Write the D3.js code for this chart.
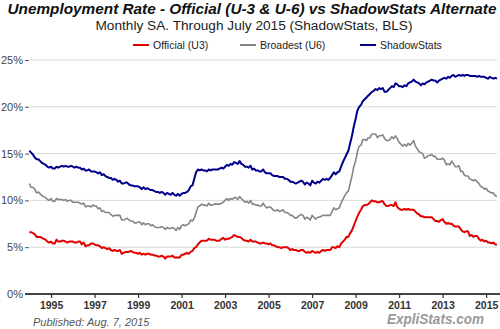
<!DOCTYPE html>
<html><head><meta charset="utf-8">
<script src="https://cdn.jsdelivr.net/npm/d3@7"></script>
<style>body{margin:0;background:#fff}svg{display:block}</style>
</head><body>
<script>
const startYear = 1994;
const u3 = [
6.6,6.6,6.5,6.4,6.1,6.1,6.1,6.0,5.9,5.8,5.6,5.5,
5.6,5.4,5.4,5.8,5.6,5.6,5.7,5.7,5.6,5.5,5.6,5.6,
5.6,5.5,5.5,5.6,5.6,5.3,5.5,5.1,5.2,5.2,5.4,5.4,
5.3,5.2,5.2,5.1,4.9,5.0,4.9,4.8,4.9,4.7,4.6,4.7,
4.6,4.6,4.7,4.3,4.4,4.5,4.5,4.5,4.6,4.5,4.4,4.4,
4.3,4.4,4.2,4.3,4.2,4.3,4.3,4.2,4.2,4.1,4.1,4.0,
4.0,4.1,4.0,3.8,4.0,4.0,4.0,4.1,3.9,3.9,3.9,3.9,
4.2,4.2,4.3,4.4,4.3,4.5,4.6,4.9,5.0,5.3,5.5,5.7,
5.7,5.7,5.7,5.9,5.8,5.8,5.8,5.7,5.7,5.7,5.9,6.0,
5.8,5.9,5.9,6.0,6.1,6.3,6.2,6.1,6.1,6.0,5.8,5.7,
5.7,5.6,5.8,5.6,5.6,5.6,5.5,5.4,5.4,5.5,5.4,5.4,
5.3,5.4,5.2,5.2,5.1,5.0,5.0,4.9,5.0,5.0,5.0,4.9,
4.7,4.8,4.7,4.7,4.6,4.6,4.7,4.7,4.5,4.4,4.5,4.4,
4.6,4.5,4.4,4.5,4.4,4.6,4.7,4.6,4.7,4.7,4.7,5.0,
5.0,4.9,5.1,5.0,5.4,5.6,5.8,6.1,6.1,6.5,6.8,7.3,
7.8,8.3,8.7,9.0,9.4,9.5,9.5,9.6,9.8,10.0,9.9,9.9,
9.8,9.8,9.9,9.9,9.6,9.4,9.4,9.5,9.5,9.4,9.8,9.3,
9.1,9.0,9.0,9.1,9.0,9.1,9.0,9.0,9.0,8.8,8.6,8.5,
8.3,8.3,8.2,8.2,8.2,8.2,8.2,8.0,7.8,7.8,7.7,7.9,
8.0,7.7,7.5,7.6,7.5,7.5,7.3,7.2,7.2,7.2,6.9,6.7,
6.6,6.7,6.7,6.2,6.3,6.1,6.2,6.2,5.9,5.7,5.8,5.6,
5.7,5.5,5.5,5.4,5.5,5.3,5.3];
const u6 = [
11.8,11.4,11.4,11.2,10.8,10.9,10.7,10.5,10.4,10.3,10.1,10.0,
10.2,9.9,9.9,10.2,10.1,10.1,10.1,10.0,10.1,9.9,10.0,10.0,
9.8,9.8,9.8,9.8,9.7,9.6,9.7,9.3,9.4,9.4,9.3,9.5,
9.4,9.4,9.1,9.2,8.8,8.9,8.7,8.7,8.7,8.5,8.3,8.4,
8.4,8.4,8.4,7.9,7.9,8.0,8.1,7.9,7.8,7.8,7.6,7.6,
7.7,7.7,7.4,7.6,7.4,7.5,7.5,7.3,7.4,7.2,7.1,7.1,
7.1,7.2,7.1,6.9,7.1,7.0,7.0,7.1,7.0,6.8,7.1,6.9,
7.3,7.4,7.3,7.4,7.5,7.9,7.8,8.1,8.7,9.3,9.4,9.6,
9.5,9.5,9.4,9.7,9.5,9.5,9.6,9.6,9.6,9.6,9.7,9.8,
10.0,10.2,10.0,10.2,10.1,10.3,10.3,10.1,10.4,10.2,10.0,9.8,
9.9,9.7,10.0,9.6,9.6,9.5,9.5,9.4,9.4,9.7,9.4,9.2,
9.3,9.3,9.1,8.9,8.9,9.0,8.8,8.9,9.0,8.7,8.7,8.6,
8.4,8.4,8.2,8.1,8.2,8.4,8.5,8.4,8.0,8.2,8.1,7.9,
8.4,8.2,8.0,8.2,8.2,8.3,8.4,8.4,8.4,8.4,8.4,8.8,
9.2,9.0,9.1,9.2,9.7,10.1,10.5,10.8,11.0,11.8,12.6,13.6,
14.2,15.2,15.8,15.9,16.5,16.5,16.4,16.7,16.7,17.1,17.1,17.1,
16.7,16.9,16.9,17.0,16.6,16.4,16.4,16.5,16.8,16.6,16.9,16.6,
16.2,16.0,15.8,16.0,15.8,16.1,15.9,16.1,16.4,15.8,15.5,15.2,
15.1,15.0,14.5,14.6,14.8,14.8,14.9,14.7,14.7,14.4,14.4,14.4,
14.5,14.3,13.8,13.9,13.8,14.2,13.9,13.6,13.6,13.7,13.1,13.1,
12.7,12.6,12.6,12.3,12.2,12.1,12.2,12.0,11.8,11.5,11.4,11.2,
11.3,11.0,10.9,10.8,10.8,10.5,10.4];
const shadow = [
15.3,15.1,14.9,14.6,14.4,14.4,14.2,14.0,13.9,13.8,13.6,13.5,
13.6,13.4,13.4,13.6,13.5,13.6,13.7,13.6,13.7,13.6,13.6,13.7,
13.6,13.5,13.6,13.5,13.5,13.3,13.4,13.2,13.2,13.3,13.1,13.1,
13.1,13.0,12.9,13.0,12.7,12.8,12.6,12.5,12.4,12.4,12.2,12.3,
12.2,12.0,12.1,11.8,11.8,11.9,11.9,11.7,11.6,11.6,11.5,11.5,
11.5,11.4,11.2,11.4,11.2,11.3,11.2,11.1,11.1,11.0,10.9,10.9,
10.8,10.9,10.8,10.6,10.8,10.7,10.6,10.8,10.6,10.5,10.7,10.5,
10.7,10.8,10.8,10.9,11.1,11.5,11.6,12.3,13.0,13.3,13.2,13.3,
13.2,13.2,13.1,13.3,13.2,13.3,13.3,13.3,13.3,13.4,13.5,13.4,
13.6,13.8,13.7,13.9,13.8,14.1,14.0,13.9,14.2,13.9,13.8,13.6,
13.6,13.5,13.7,13.3,13.4,13.2,13.2,13.1,13.1,13.3,13.0,12.9,
12.9,12.9,12.7,12.6,12.6,12.6,12.5,12.5,12.5,12.3,12.3,12.2,
12.0,12.0,11.9,11.8,11.9,12.0,12.1,12.0,11.7,11.9,11.8,11.6,
12.1,11.9,11.8,12.0,11.9,12.1,12.3,12.2,12.3,12.2,12.4,12.7,
13.0,12.8,13.0,13.1,13.6,14.1,14.5,14.9,15.3,16.1,16.9,17.9,
18.7,19.6,20.0,20.2,20.6,20.8,21.0,21.2,21.4,21.6,21.7,21.9,
21.8,22.0,21.9,22.0,21.6,21.6,21.8,22.0,22.2,22.1,22.5,22.4,
22.2,22.2,22.1,22.3,22.2,22.5,22.6,22.7,22.9,22.7,22.6,22.5,
22.3,22.5,22.4,22.6,22.7,22.8,22.9,22.8,22.8,22.6,22.8,22.9,
23.0,23.1,23.0,23.2,23.1,23.3,23.4,23.2,23.3,23.4,23.3,23.4,
23.3,23.4,23.4,23.3,23.3,23.3,23.3,23.2,23.3,23.2,23.2,23.2,
23.1,23.0,23.2,23.1,23.0,23.1,23.0];
const yTicks = [0,5,10,15,20,25];
const xTicks = [1995,1997,1999,2001,2003,2005,2007,2009,2011,2013,2015];
const seriesNames = ["Official (U3)","Broadest (U6)","ShadowStats"];
const seriesColors = ["#e00000","#858585","#00008b"];

const W = 500, H = 329;
const svg = d3.select("body").append("svg").attr("width",W).attr("height",H);
const x = d3.scaleLinear().domain([1994, 2015.5]).range([29.3, 497]);
const y = d3.scaleLinear().domain([0, 25]).range([294, 60]);
const font = "Arial, 'Liberation Sans', sans-serif";

// gridlines
svg.append("g").selectAll("line").data(yTicks.filter(d=>d>0)).join("line")
  .attr("x1",30).attr("x2",497).attr("y1",d=>y(d)).attr("y2",d=>y(d))
  .attr("stroke","#d9d9d9").attr("stroke-width",1);

// y axis labels
const yAxis = d3.axisLeft(y).tickValues(yTicks).tickSize(4).tickPadding(2).tickFormat(d=>d+"%");
const gy = svg.append("g").attr("transform","translate(29,0)").call(yAxis);
gy.select(".domain").remove();
gy.selectAll("line").attr("stroke","#555");
gy.selectAll("text").attr("font-family",font).attr("font-size",11).attr("fill","#444");

// x axis
const xAxis = d3.axisBottom(x).tickValues(xTicks).tickSize(4).tickPadding(4).tickFormat(d=>String(d));
const gx = svg.append("g").attr("transform","translate(0,294)").call(xAxis);
gx.select(".domain").attr("d","M25,0H500").attr("stroke","#444").attr("stroke-width",2);
gx.selectAll("line").attr("stroke","#333").attr("stroke-width",1.2);
gx.selectAll("text").attr("font-family",font).attr("font-size",10.5).attr("font-weight","bold").attr("fill","#333");

// lines
const line = d3.line().x((d,i)=>x(startYear + i/12)).y(d=>y(d));
[u3,u6,shadow].forEach((s,k)=>{
  svg.append("path").datum(s).attr("d",line).attr("fill","none")
    .attr("stroke",seriesColors[k]).attr("stroke-width",k===1?1.6:2).attr("stroke-linejoin","round");
});

// title
svg.append("text").attr("x",252).attr("y",13.5).attr("text-anchor","middle")
  .attr("font-family",font).attr("font-size",15).attr("font-weight","bold").attr("font-style","italic")
  .attr("fill","#111").attr("textLength",489).attr("lengthAdjust","spacingAndGlyphs")
  .text("Unemployment Rate - Official (U-3 & U-6) vs ShadowStats Alternate");
svg.append("text").attr("x",254).attr("y",29.5).attr("text-anchor","middle")
  .attr("font-family",font).attr("font-size",12).attr("fill","#222")
  .attr("textLength",317).attr("lengthAdjust","spacingAndGlyphs")
  .text("Monthly SA. Through July 2015  (ShadowStats, BLS)");

// legend
const legX = [133,240,360];
const lg = svg.append("g");
seriesNames.forEach((n,k)=>{
  lg.append("line").attr("x1",legX[k]).attr("x2",legX[k]+16).attr("y1",45).attr("y2",45)
    .attr("stroke",seriesColors[k]).attr("stroke-width",2);
  lg.append("text").attr("x",legX[k]+20).attr("y",49).attr("font-family",font).attr("font-size",10.5)
    .attr("fill","#222").text(n);
});

// footer
svg.append("text").attr("x",33).attr("y",325.5).attr("font-family",font).attr("font-size",11)
  .attr("font-style","italic").attr("fill","#555").text("Published: Aug. 7, 2015");
svg.append("text").attr("x",387).attr("y",324).attr("font-family",font).attr("font-size",14.5)
  .attr("font-style","italic").attr("font-weight","bold").attr("fill","#9a9a9a")
  .attr("textLength",97).attr("lengthAdjust","spacingAndGlyphs").text("ExpliStats.com");
</script>
</body></html>
